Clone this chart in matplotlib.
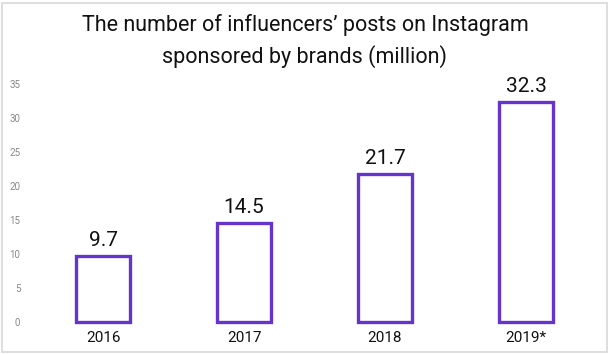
import matplotlib.pyplot as plt
from matplotlib.patches import Rectangle

# data
years = ["2016", "2017", "2018", "2019*"]
posts = [9.7, 14.5, 21.7, 32.3]
yticks = [0, 5, 10, 15, 20, 25, 30, 35]

plt.rcParams["font.family"] = ["Roboto", "DejaVu Sans"]

fig = plt.figure(figsize=(6.1, 3.54), dpi=100)
ax = fig.add_axes([30 / 610, 32 / 354, 570 / 610, 238 / 354])

x = list(range(len(years)))
ax.bar(x, posts, width=0.38, facecolor="white", edgecolor="#6633cc",
       linewidth=2.4, clip_on=False)

for xi, v in zip(x, posts):
    ax.text(xi, v + 0.9, f"{v}", ha="center", va="bottom", fontsize=15,
            color="#111111")

ax.set_xlim(-0.518, 3.525)
ax.set_ylim(0, 35)
ax.set_xticks(x)
ax.set_xticklabels(years, fontsize=11, color="#111111")
ax.set_yticks(yticks)
ax.tick_params(axis="y", labelsize=7, labelcolor="#888888", length=0, pad=7)
ax.tick_params(axis="x", length=0, pad=6.5)
for s in ax.spines.values():
    s.set_visible(False)

fig.text(0.5, (354 - 41) / 354, "The number of influencers\u2019 posts on Instagram\nsponsored by brands (million)",
         ha="center", va="center", fontsize=15.5, linespacing=1.45, color="#111111")

# light frame round the picture
fig.patches.append(Rectangle((1.5 / 610, 2.5 / 354), 605 / 610, 349 / 354,
                             transform=fig.transFigure, fill=False,
                             edgecolor="#d8d8d8", linewidth=1.2))

fig.savefig("out.png", dpi=100)
